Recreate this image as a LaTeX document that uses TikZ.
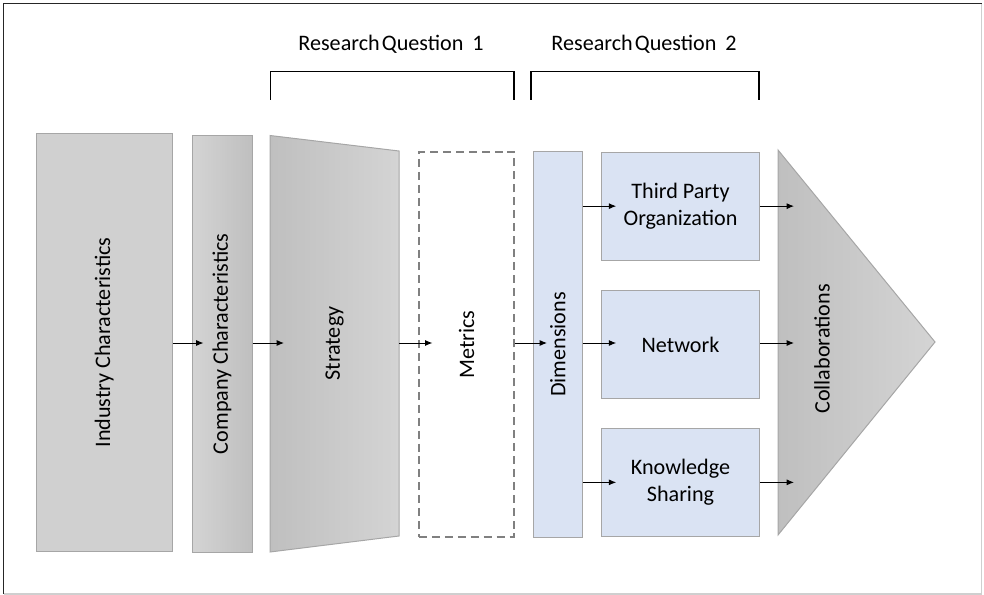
\documentclass[tikz,border=0pt]{standalone}
\usepackage{fontspec}
\setmainfont{Carlito}
\usetikzlibrary{arrows.meta,fit,calc}

\definecolor{boxline}{HTML}{A6A6A6}
\definecolor{greyfill}{HTML}{D0D0D0}
\definecolor{greylight}{HTML}{D4D4D4}
\definecolor{greydark}{HTML}{BFBFBF}
\definecolor{bluefill}{HTML}{DAE3F3}
\definecolor{dashline}{HTML}{808080}
\definecolor{framelight}{HTML}{CFCFCF}

\tikzset{
  every node/.style={font=\fontsize{16.6}{20}\selectfont},
  area/.style={inner sep=0pt, draw=boxline, line width=0.75pt},
  bluebox/.style={area, fill=bluefill},
  vtext/.style={rotate=90, inner sep=0pt},
  arr/.style={-{Latex[length=5.5pt,width=4.5pt]}, line width=0.7pt, black},
  bracket/.style={line width=1pt, black},
}

% horizontal gradient made of thin strips: x0, x1, y0, y1, left colour, right colour
\newcommand{\stripgrad}[6]{%
  \foreach \k in {0,...,47}{%
    \pgfmathsetmacro{\pa}{#1+(#2-#1)*\k/48}%
    \pgfmathsetmacro{\pb}{#1+(#2-#1)*(\k+1.3)/48}%
    \pgfmathsetmacro{\pc}{100*(\k+0.5)/48}%
    \fill[#6!\pc!#5] (\pa,#3) rectangle (\pb,#4);
  }%
}

\begin{document}
\begin{tikzpicture}[x=0.75pt, y=-0.75pt]
\useasboundingbox (0,0) rectangle (984,595);

% frame
\draw[framelight, line width=0.9pt] (981.5,3.5) -- (981.5,594) -- (3.5,594);
\draw[black!85, line width=1pt] (3.5,594) -- (3.5,3.5) -- (981.5,3.5);

% research question brackets
\node (rq1) at (391,44) {Research\hspace{0.1em}Question\hspace{0.4em}1};
\node (rq2) at (644,44) {Research\hspace{0.1em}Question\hspace{0.4em}2};
\draw[bracket] (270.7,100) -- (270.7,71.7) -- (514,71.7) -- (514,100);
\draw[bracket] (531,100) -- (531,71.7) -- (759,71.7) -- (759,100);

% industry block
\node[area, fill=greyfill, fit={(36,134) (172.5,551)}] (ind) {};
\node[vtext] (indtext) at (ind.center) {Industry Characteristics};

% company block, light to dark
\begin{scope}
  \clip (192,135.5) rectangle (252,552);
  \stripgrad{192}{252}{135.5}{552}{greylight}{greydark}
\end{scope}
\node[area, fit={(192,135.5) (252,552)}] (comp) {};
\node[vtext] (comptext) at (comp.center) {Company Characteristics};

% strategy trapezoid, dark to light
\coordinate (s1) at (270,135.5);
\coordinate (s2) at (399,151);
\coordinate (s3) at (399,536);
\coordinate (s4) at (270,552);
\begin{scope}
  \clip (s1) -- (s2) -- (s3) -- (s4) -- cycle;
  \stripgrad{270}{399}{135}{553}{greydark}{greylight}
\end{scope}
\draw[draw=boxline, line width=0.75pt] (s1) -- (s2) -- (s3) -- (s4) -- cycle;
\node[vtext] (strat) at (334.5,343.5) {Strategy};

% metrics
\node[inner sep=0pt, draw=dashline, line width=0.9pt, dash pattern=on 6pt off 3.7pt,
      fit={(419,152) (514,537)}] (met) {};
\node[vtext] (mettext) at (met.center) {Metrics};

% dimensions and sub-boxes
\node[bluebox, fit={(533.5,152) (582,537)}] (dim) {};
\node[vtext] (dimtext) at (dim.center) {Dimensions};
\node[bluebox, fit={(601.7,152.3) (759.3,260)}] (tp) {};
\node[align=center] (tptext) at (tp.center) {Third Party\\Organization};
\node[bluebox, fit={(601.7,290.7) (759.3,398.7)}] (net) {};
\node (nettext) at (net.center) {Network};
\node[bluebox, fit={(601.7,428.7) (759.3,536)}] (ks) {};
\node[align=center] (kstext) at (ks.center) {Knowledge\\Sharing};

% collaborations arrowhead, dark to light
\coordinate (c1) at (778,150);
\coordinate (c2) at (935,342);
\coordinate (c3) at (778,535);
\begin{scope}
  \clip (c1) -- (c2) -- (c3) -- cycle;
  \stripgrad{778}{935}{149}{536}{greydark}{greylight}
\end{scope}
\draw[draw=boxline, line width=0.75pt] (c1) -- (c2) -- (c3) -- cycle;
\node[vtext] (coll) at (822,349) {Collaborations};

% connectors
\coordinate (mid) at (0,343);
\draw[arr] (ind.east |- mid) -- ($(comp.west |- mid)+(12,0)$);
\draw[arr] (comp.east |- mid) -- ($(s1 |- mid)+(14,0)$);
\draw[arr] (s2 |- mid) -- ($(met.west |- mid)+(14,0)$);
\draw[arr] (met.east |- mid) -- ($(dim.west |- mid)+(14,0)$);
\draw[arr] (dim.east |- tp.west) -- ($(tp.west)+(15,0)$);
\draw[arr] (dim.east |- mid) -- ($(net.west |- mid)+(15,0)$);
\draw[arr] (dim.east |- ks.west) -- ($(ks.west)+(15,0)$);
\draw[arr] (tp.east) -- ($(c1 |- tp.east)+(16,0)$);
\draw[arr] (net.east |- mid) -- ($(c1 |- mid)+(16,0)$);
\draw[arr] (ks.east) -- ($(c1 |- ks.east)+(16,0)$);
\end{tikzpicture}
\end{document}
